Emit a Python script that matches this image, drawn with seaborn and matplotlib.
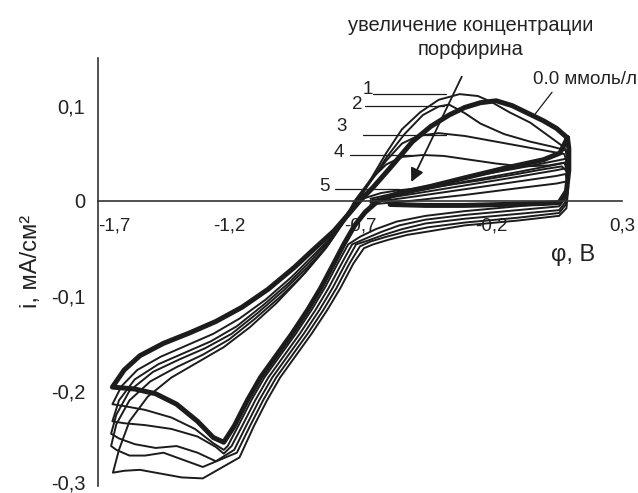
import matplotlib
matplotlib.use("Agg")
import pandas as pd
import matplotlib.pyplot as plt
import matplotlib.transforms as mtransforms
import seaborn as sns

# ==========================================
# DATA (potential phi in V, current i in mA/cm^2)
# ==========================================
# 0.0 mmol/l (bold curve)
c0_x = [-0.585, -0.45, -0.3, -0.15, 0.0, 0.06, 0.088, 0.097, 0.097, 0.092,
        0.063, 0.0, -0.15, -0.3, -0.43, -0.55, -0.63, -0.68,
        -0.72, -0.76, -0.8, -0.85, -0.9, -0.96, -1.02, -1.08, -1.13, -1.18, -1.22,
        -1.26, -1.32, -1.4, -1.48, -1.56, -1.645,
        -1.6, -1.54, -1.45, -1.35, -1.25, -1.15, -1.05, -0.95, -0.88, -0.8, -0.74, -0.7,
        -0.65, -0.58, -0.5, -0.43, -0.36, -0.3, -0.24, -0.18, -0.12, -0.06, 0.0, 0.05, 0.092]
c0_y = [-0.004, -0.005, -0.005, -0.004, -0.003, -0.002, 0.01, 0.032, 0.055, 0.066,
        0.05, 0.043, 0.034, 0.024, 0.015, 0.008, 0.0, -0.012,
        -0.026, -0.045, -0.066, -0.092, -0.115, -0.14, -0.163, -0.186, -0.21, -0.237, -0.254,
        -0.249, -0.232, -0.214, -0.203, -0.198, -0.196,
        -0.178, -0.163, -0.15, -0.139, -0.127, -0.112, -0.093, -0.07, -0.052, -0.032, -0.013, 0.0,
        0.014, 0.036, 0.062, 0.078, 0.09, 0.098, 0.103, 0.105, 0.1, 0.092, 0.084, 0.076, 0.066]

c1_x = [-0.66, -0.5, -0.3, -0.1, 0.05, 0.085, 0.095, 0.09,
        0.06, -0.1, -0.3, -0.45, -0.56, -0.64, -0.7,
        -0.745, -0.785, -0.835, -0.885, -0.945, -1.005, -1.065, -1.115, -1.165, -1.205, -1.22,
        -1.26, -1.33, -1.42, -1.52, -1.6, -1.645,
        -1.61, -1.55, -1.46, -1.36, -1.26, -1.16, -1.06, -0.96, -0.88, -0.8, -0.74, -0.7,
        -0.66, -0.6, -0.54, -0.47, -0.4, -0.32, -0.25, -0.2, -0.13, -0.05, 0.02, 0.08,
        0.095, 0.095]
c1_y = [0.002, 0.012, 0.024, 0.034, 0.042, 0.044, 0.03, 0.008,
        -0.002, -0.006, -0.011, -0.016, -0.022, -0.03, -0.038,
        -0.046, -0.066, -0.092, -0.115, -0.14, -0.163, -0.186, -0.21, -0.237, -0.258, -0.262,
        -0.255, -0.24, -0.228, -0.22, -0.216, -0.214,
        -0.195, -0.178, -0.164, -0.152, -0.14, -0.124, -0.104, -0.08, -0.058, -0.036, -0.014, 0.002,
        0.022, 0.05, 0.075, 0.093, 0.106, 0.112, 0.11, 0.104, 0.093, 0.082, 0.068, 0.056,
        0.045, 0.03]

c2_x = [-0.66, -0.5, -0.3, -0.1, 0.05, 0.085, 0.095, 0.088,
        0.06, -0.1, -0.3, -0.45, -0.55, -0.62, -0.68,
        -0.73, -0.77, -0.82, -0.87, -0.93, -0.99, -1.05, -1.1, -1.15, -1.19, -1.22,
        -1.25, -1.32, -1.42, -1.52, -1.6, -1.645,
        -1.62, -1.56, -1.47, -1.37, -1.27, -1.17, -1.07, -0.97, -0.89, -0.81, -0.75, -0.71,
        -0.66, -0.6, -0.53, -0.46, -0.4, -0.36, -0.3, -0.24, -0.15, -0.05, 0.03, 0.085,
        0.095, 0.094]
c2_y = [0.0, 0.009, 0.02, 0.03, 0.038, 0.04, 0.025, 0.004,
        -0.006, -0.01, -0.015, -0.02, -0.026, -0.033, -0.04,
        -0.046, -0.066, -0.092, -0.115, -0.14, -0.163, -0.186, -0.21, -0.237, -0.258, -0.266,
        -0.259, -0.248, -0.24, -0.236, -0.234, -0.232,
        -0.21, -0.188, -0.172, -0.16, -0.148, -0.132, -0.11, -0.086, -0.064, -0.04, -0.018, 0.0,
        0.02, 0.045, 0.07, 0.09, 0.099, 0.101, 0.092, 0.081, 0.07, 0.062, 0.057, 0.053,
        0.04, 0.025]

c3_x = [-0.66, -0.5, -0.3, -0.1, 0.05, 0.085, 0.095, 0.088,
        0.06, -0.1, -0.3, -0.45, -0.54, -0.61, -0.67,
        -0.715, -0.755, -0.805, -0.855, -0.915, -0.975, -1.035, -1.085, -1.135, -1.18, -1.25,
        -1.32, -1.4, -1.48, -1.56, -1.62, -1.65,
        -1.63, -1.58, -1.49, -1.39, -1.29, -1.19, -1.09, -0.99, -0.9, -0.82, -0.76, -0.715,
        -0.66, -0.6, -0.54, -0.48, -0.4, -0.3, -0.2, -0.1, 0.0, 0.08,
        0.095, 0.092]
c3_y = [0.0, 0.007, 0.016, 0.025, 0.032, 0.034, 0.02, 0.0,
        -0.01, -0.014, -0.019, -0.024, -0.03, -0.036, -0.042,
        -0.046, -0.066, -0.092, -0.115, -0.14, -0.163, -0.186, -0.21, -0.237, -0.262, -0.274,
        -0.265, -0.258, -0.26, -0.256, -0.25, -0.245,
        -0.225, -0.2, -0.18, -0.167, -0.155, -0.14, -0.118, -0.094, -0.07, -0.046, -0.022, 0.0,
        0.02, 0.042, 0.06, 0.068, 0.071, 0.068, 0.063, 0.058, 0.053, 0.049,
        0.035, 0.018]

c4_x = [-0.66, -0.5, -0.3, -0.1, 0.05, 0.085, 0.095, 0.086,
        0.06, -0.1, -0.3, -0.44, -0.53, -0.6, -0.66,
        -0.7, -0.74, -0.79, -0.84, -0.9, -0.96, -1.02, -1.07, -1.12, -1.17, -1.3,
        -1.38, -1.45, -1.52, -1.58, -1.63, -1.65,
        -1.63, -1.58, -1.5, -1.4, -1.3, -1.2, -1.1, -1.0, -0.91, -0.83, -0.77, -0.72,
        -0.66, -0.6, -0.54, -0.46, -0.38, -0.28, -0.18, -0.08, 0.02, 0.08,
        0.095, 0.09]
c4_y = [-0.002, 0.004, 0.012, 0.02, 0.026, 0.028, 0.014, -0.004,
        -0.013, -0.018, -0.023, -0.028, -0.033, -0.038, -0.043,
        -0.048, -0.066, -0.092, -0.115, -0.14, -0.163, -0.186, -0.21, -0.237, -0.265, -0.28,
        -0.272, -0.265, -0.268, -0.268, -0.262, -0.258,
        -0.235, -0.21, -0.19, -0.175, -0.162, -0.146, -0.124, -0.1, -0.076, -0.05, -0.025, 0.0,
        0.022, 0.038, 0.046, 0.048, 0.047, 0.043, 0.039, 0.036, 0.037, 0.04,
        0.028, 0.012]

c5_x = [-0.66, -0.5, -0.3, -0.1, 0.05, 0.085, 0.094, 0.088,
        0.06, -0.1, -0.3, -0.43, -0.52, -0.59, -0.65,
        -0.685, -0.725, -0.775, -0.825, -0.885, -0.945, -1.005, -1.055, -1.105, -1.16, -1.3,
        -1.38, -1.46, -1.54, -1.6, -1.643,
        -1.62, -1.58, -1.51, -1.42, -1.32, -1.22, -1.12, -1.02, -0.93, -0.85, -0.79, -0.74,
        -0.69, -0.62, -0.55, -0.4, -0.25, -0.1, 0.0, 0.07,
        0.093, 0.092]
c5_y = [-0.004, 0.0, 0.006, 0.013, 0.018, 0.02, 0.01, -0.008,
        -0.016, -0.021, -0.026, -0.032, -0.036, -0.041, -0.046,
        -0.05, -0.066, -0.092, -0.115, -0.14, -0.163, -0.186, -0.21, -0.237, -0.27, -0.292,
        -0.291, -0.287, -0.283, -0.284, -0.286,
        -0.262, -0.232, -0.206, -0.186, -0.17, -0.154, -0.133, -0.108, -0.082, -0.056, -0.03, -0.01,
        0.002, 0.008, 0.011, 0.015, 0.021, 0.028, 0.033, 0.036,
        0.03, 0.015]

curve_names = ["0.0", "1", "2", "3", "4", "5"]
curve_xs = [c0_x, c1_x, c2_x, c3_x, c4_x, c5_x]
curve_ys = [c0_y, c1_y, c2_y, c3_y, c4_y, c5_y]

# curve number labels and their leader lines
num_labels = ["1", "2", "3", "4", "5"]
num_label_x = [-0.669, -0.711, -0.769, -0.78, -0.837]
num_label_y = [0.117, 0.101, 0.078, 0.051, 0.015]
leader_x0 = [-0.65, -0.68, -0.689, -0.738, -0.795]
leader_x1 = [-0.37, -0.38, -0.37, -0.5, -0.55]
leader_y = [0.1126, 0.100, 0.069, 0.048, 0.0126]

x_ticks = [-1.7, -1.2, -0.7, -0.2, 0.3]
x_tick_labels = ["-1,7", "-1,2", "-0,7", "-0,2", "0,3"]
y_ticks = [-0.3, -0.2, -0.1, 0.0, 0.1]
y_tick_labels = ["-0,3", "-0,2", "-0,1", "0", "0,1"]

INK = "#1c1c1c"
TXT = "#222222"
FS = 13.5


def main():
    rows = []
    for name, xs, ys in zip(curve_names, curve_xs, curve_ys):
        for k, (x, y) in enumerate(zip(xs, ys)):
            rows.append({"curve": name, "step": k, "phi": x, "i": y})
    df = pd.DataFrame(rows)

    sns.set_theme(style="white")
    plt.rcParams["font.family"] = ["Liberation Sans", "DejaVu Sans"]

    fig = plt.figure(figsize=(6.38, 4.93), dpi=100)
    ax = fig.add_axes([0.1536, 0.0142, 0.8213, 0.8682])

    for name in curve_names[1:]:
        sns.lineplot(data=df[df["curve"] == name], x="phi", y="i", sort=False,
                     estimator=None, color=INK, lw=1.4, ax=ax, legend=False)
    sns.lineplot(data=df[df["curve"] == "0.0"], x="phi", y="i", sort=False,
                 estimator=None, color=INK, lw=3.6, ax=ax, legend=False)

    ax.set_xlim(-1.7, 0.3)
    ax.set_ylim(-0.3, 0.15)
    ax.set_xlabel("")
    ax.set_ylabel("")

    # axes cross at i = 0
    for side in ["top", "right"]:
        ax.spines[side].set_visible(False)
    ax.spines["bottom"].set_position(("data", 0))
    for side in ["left", "bottom"]:
        ax.spines[side].set_color("#333333")
        ax.spines[side].set_linewidth(1.2)

    ax.set_xticks(x_ticks)
    ax.set_xticklabels(x_tick_labels)
    ax.set_yticks(y_ticks)
    ax.set_yticklabels(y_tick_labels)
    ax.tick_params(axis="x", direction="in", length=6, width=1.1, color="#333333",
                   pad=12, labelsize=FS, labelcolor=TXT)
    ax.tick_params(axis="y", direction="in", length=5.5, width=1.1, color="#333333",
                   pad=9, labelsize=FS + 1, labelcolor=TXT)
    ax.get_xticklabels()[0].set_horizontalalignment("left")
    # keep the lowest y label inside the canvas
    low = ax.get_yticklabels()[0]
    low.set_transform(low.get_transform() +
                      mtransforms.ScaledTranslation(0, 3 / 72, fig.dpi_scale_trans))

    # curve labels
    for lab, lx, ly, x0, x1, yl in zip(num_labels, num_label_x, num_label_y,
                                        leader_x0, leader_x1, leader_y):
        ax.text(lx, ly, lab, ha="center", va="center", fontsize=FS, color=TXT)
        ax.plot([x0, x1], [yl, yl], color=INK, lw=0.9)

    ax.text(-0.04, 0.127, "0.0 ммоль/л", ha="left", va="center", fontsize=FS, color=TXT)
    ax.plot([0.033, -0.04], [0.114, 0.088], color=INK, lw=0.9)

    ax.annotate("", xy=(-0.509, 0.017), xytext=(-0.307, 0.133),
                arrowprops=dict(arrowstyle="-|>", lw=1.3, color=INK, mutation_scale=20))

    ax.text(0.113, -0.057, "φ, В", ha="center", va="center", fontsize=17, color=TXT)
    fig.text(0.049, 0.47, "i, мА/см²", rotation=90, ha="center", va="center",
             fontsize=17, color=TXT)
    fig.text(0.738, 0.949, "увеличение концентрации", ha="center", va="center",
             fontsize=14.5, color=TXT)
    fig.text(0.738, 0.899, "порфирина", ha="center", va="center", fontsize=14.5, color=TXT)

    fig.savefig("out.png", dpi=100)


if __name__ == "__main__":
    main()
